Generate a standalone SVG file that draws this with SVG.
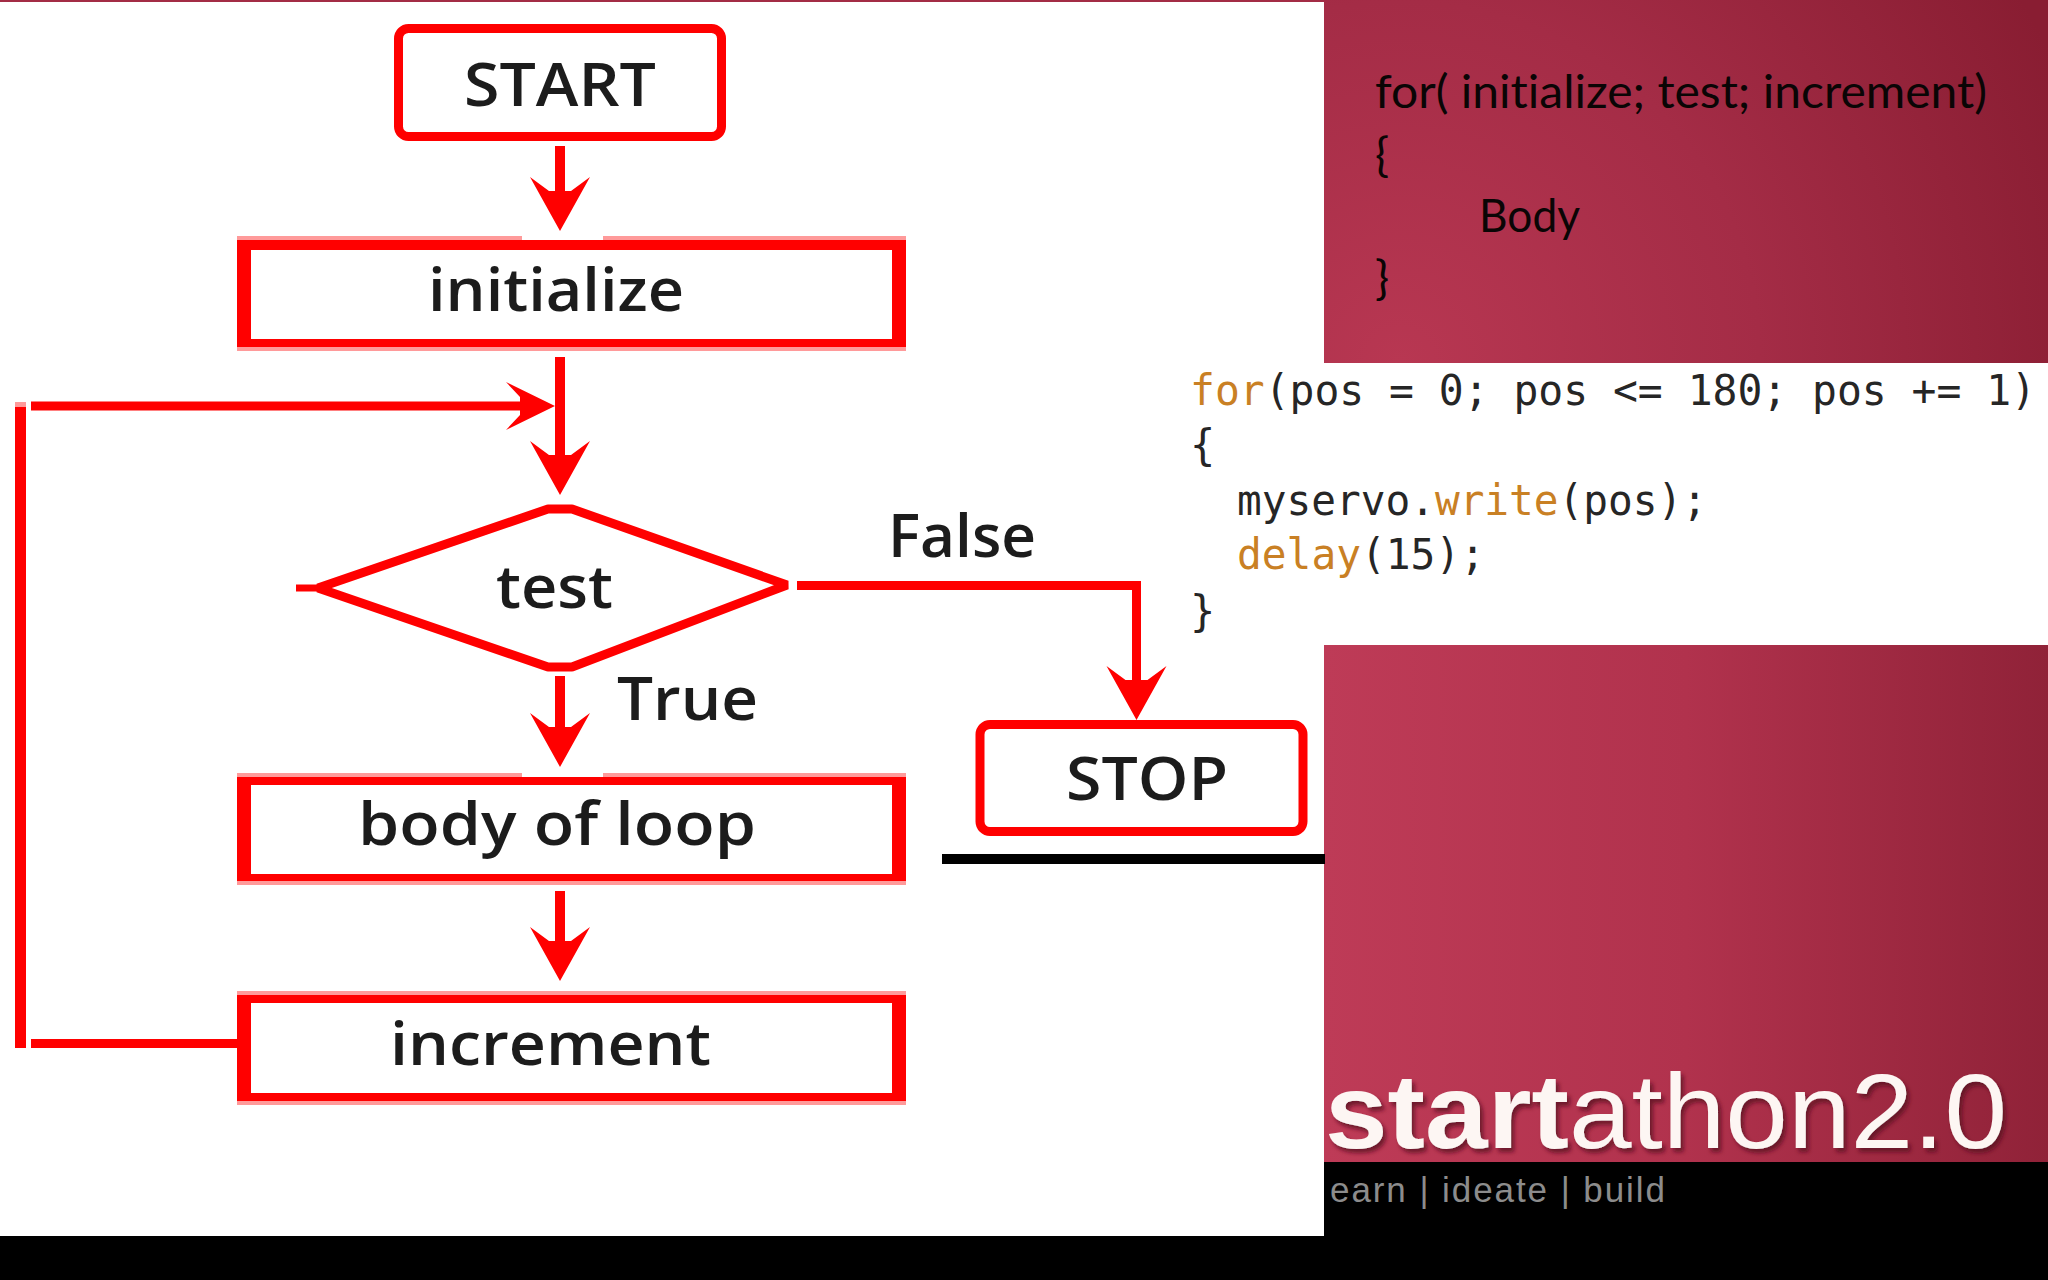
<svg xmlns="http://www.w3.org/2000/svg" width="2048" height="1280" viewBox="0 0 2048 1280">
<style>
.fc{font-family:"Open Sans","Noto Sans",sans-serif;font-size:60px;font-weight:600;fill:#1c1c1c;text-anchor:start}
.sl{font-family:Lato,"Liberation Sans",sans-serif;font-size:47px;fill:#0a0505;font-variant-ligatures:none}
.cd{font-family:"DejaVu Sans Mono","Liberation Mono",monospace;font-size:42px;fill:#262626}
.or{fill:#c98024}
.red{fill:#ff0000}
.fr{fill:#ff9a9a}
.ins{fill:#ffffff}
.cn{fill:none;stroke:#ff0000;stroke-width:10}
.sb{fill:#fff;stroke:#ff0000;stroke-width:9}
</style>
<defs>
<linearGradient id="g2" x1="0" y1="0" x2="1" y2="0"><stop offset="0" stop-color="#be3b57"/><stop offset="0.5" stop-color="#b1324d"/><stop offset="1" stop-color="#902238"/></linearGradient>
<radialGradient id="g1" gradientUnits="userSpaceOnUse" cx="1400" cy="362" r="720"><stop offset="0" stop-color="#b83752"/><stop offset="0.5" stop-color="#a42c46"/><stop offset="1" stop-color="#891d32"/></radialGradient>
<marker id="ah" markerUnits="userSpaceOnUse" viewBox="-30 -32 64 64" markerWidth="64" markerHeight="64" refX="0" refY="0" orient="auto" overflow="visible"><path class="red" d="M30 0L-24 30L-10 11L-10 -11L-24 -30Z"/></marker>
<marker id="ahs" markerUnits="userSpaceOnUse" viewBox="-30 -32 64 64" markerWidth="64" markerHeight="64" refX="0" refY="0" orient="auto" overflow="visible"><path class="red" d="M25 0L-24 24L-10 9L-10 -9L-24 -24Z"/></marker>
<filter id="sh" x="-5%" y="-10%" width="110%" height="125%"><feDropShadow dx="3" dy="4" stdDeviation="2" flood-color="#5a1020" flood-opacity="0.8"/></filter>
</defs>
<rect width="2048" height="1280" fill="#000"/>
<g id="panels">
<rect x="0" y="0" width="2048" height="3" fill="#a32c45"/>
<rect x="0" y="2" width="1324" height="1234" fill="#fff"/>
<rect x="1324" y="0" width="724" height="363" fill="url(#g1)"/>
<rect x="1324" y="363" width="724" height="282" fill="#fff"/>
<rect x="1324" y="645" width="724" height="517" fill="url(#g2)"/>
<rect x="942" y="854" width="383" height="10" fill="#000"/>
</g>
<g id="connectors">
<line class="cn" x1="560" y1="146" x2="560" y2="201" marker-end="url(#ah)"/>
<line class="cn" x1="560" y1="357" x2="560" y2="465" marker-end="url(#ah)"/>
<line class="cn" x1="560" y1="676" x2="560" y2="737" marker-end="url(#ah)"/>
<line class="cn" x1="560" y1="891" x2="560" y2="951" marker-end="url(#ah)"/>
<path class="cn" d="M237 1043.500H31" style="stroke-width:9"/>
<rect class="red" x="15" y="402" width="11" height="646"/>
<rect class="fr" x="15" y="402" width="11" height="5"/>
<line class="cn" x1="31" y1="406" x2="530" y2="406" marker-end="url(#ahs)" style="stroke-width:9"/>
<path class="cn" d="M797 585.500H1136.500V690" marker-end="url(#ah)" style="stroke-width:9"/>
</g>
<g id="start">
<rect class="sb" x="398.500" y="28.500" width="323" height="108" rx="10"/>
<text class="fc" x="464" y="106" textLength="192" lengthAdjust="spacingAndGlyphs">START</text>
</g>
<g id="initialize">
<rect class="fr" x="237" y="236" width="285" height="5"/><rect class="fr" x="603" y="236" width="303" height="5"/><rect class="fr" x="237" y="346" width="669" height="5"/>
<rect class="red" x="237" y="240" width="669" height="107"/>
<rect class="ins" x="251" y="250" width="641" height="89"/>
<text class="fc" x="428" y="311" textLength="256" lengthAdjust="spacingAndGlyphs">initialize</text>
</g>
<g id="test">
<line x1="296" y1="588" x2="325" y2="588" stroke="#ff0000" stroke-width="7"/>
<polygon points="318,588 548,509 572,509 787,585 572,667 548,667" fill="#fff" stroke="#ff0000" stroke-width="9" stroke-linejoin="bevel"/>
<text class="fc" x="496" y="608" textLength="117" lengthAdjust="spacingAndGlyphs">test</text>
</g>
<g id="label-false"><text class="fc" x="888" y="557" textLength="148" lengthAdjust="spacingAndGlyphs">False</text></g>
<g id="label-true"><text class="fc" x="617" y="720" textLength="141" lengthAdjust="spacingAndGlyphs">True</text></g>
<g id="stop">
<rect class="sb" x="980" y="724.500" width="323" height="107" rx="10"/>
<text class="fc" x="1066" y="800" textLength="162" lengthAdjust="spacingAndGlyphs">STOP</text>
</g>
<g id="body">
<rect class="fr" x="237" y="773" width="285" height="5"/><rect class="fr" x="603" y="773" width="303" height="5"/><rect class="fr" x="237" y="880" width="669" height="5"/>
<rect class="red" x="237" y="777" width="669" height="104"/>
<rect class="ins" x="251" y="785" width="641" height="89"/>
<text class="fc" x="358" y="845" textLength="398" lengthAdjust="spacingAndGlyphs">body of loop</text>
</g>
<g id="increment">
<rect class="fr" x="237" y="991" width="669" height="114"/>
<rect class="red" x="237" y="995" width="669" height="106"/>
<rect class="ins" x="251" y="1003" width="641" height="90"/>
<text class="fc" x="390" y="1065" textLength="321" lengthAdjust="spacingAndGlyphs">increment</text>
</g>
<g id="syntax">
<text class="sl" x="1375" y="108" textLength="612" lengthAdjust="spacingAndGlyphs">for( initialize; test; increment)</text>
<text class="sl" x="1375" y="171">{</text>
<text class="sl" x="1479" y="232" textLength="101" lengthAdjust="spacingAndGlyphs">Body</text>
<text class="sl" x="1375" y="294">}</text>
</g>
<g id="code">
<text class="cd" x="1190" y="405" textLength="846" lengthAdjust="spacingAndGlyphs"><tspan class="or">for</tspan>(pos = 0; pos &lt;= 180; pos += 1)</text>
<text class="cd" x="1190" y="460">{</text>
<text class="cd" x="1237" y="515" textLength="470" lengthAdjust="spacingAndGlyphs">myservo.<tspan class="or">write</tspan>(pos);</text>
<text class="cd" x="1237" y="569" textLength="248" lengthAdjust="spacingAndGlyphs"><tspan class="or">delay</tspan>(15);</text>
<text class="cd" x="1190" y="626">}</text>
</g>
<g id="logo">
<text x="1325" y="1148" font-family="Liberation Sans,sans-serif" font-size="106" fill="#fdf6f3" filter="url(#sh)" textLength="682" lengthAdjust="spacingAndGlyphs"><tspan font-weight="700">start</tspan>athon2.0</text>
<text x="1330" y="1202" font-family="Liberation Sans,sans-serif" font-size="35" fill="#8c8c8c" textLength="335" lengthAdjust="spacing">earn | ideate | build</text>
</g>
</svg>
